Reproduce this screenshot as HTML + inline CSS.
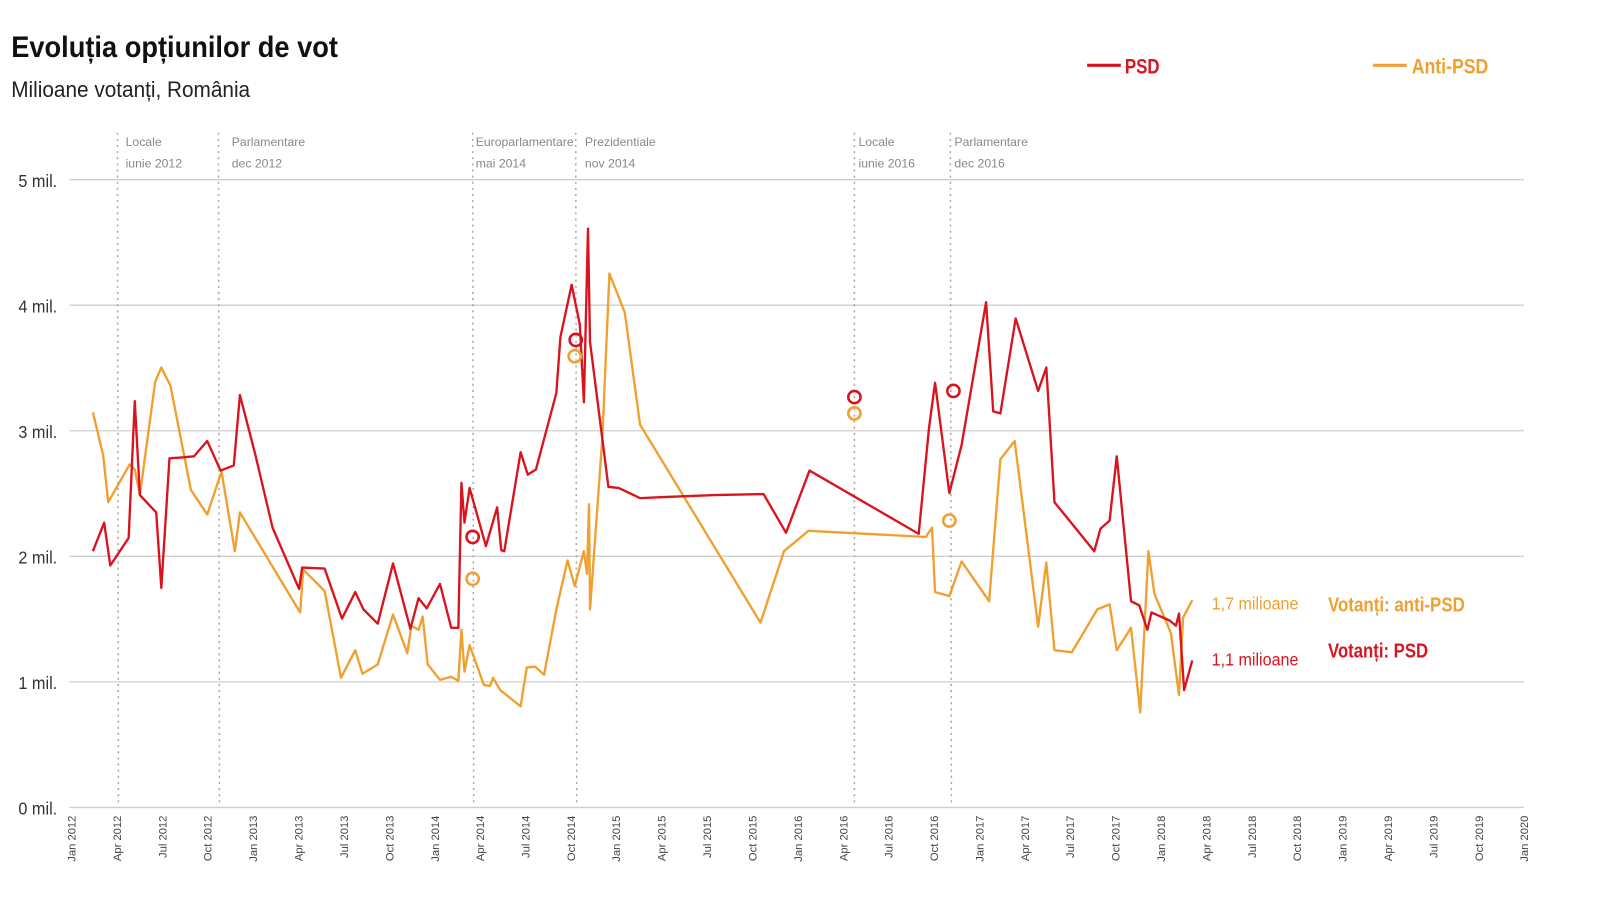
<!DOCTYPE html>
<html><head><meta charset="utf-8"><style>
html,body{margin:0;padding:0;background:#fff;}
svg{display:block;font-family:"Liberation Sans",sans-serif;}
</style></head><body>
<svg width="1600" height="900" viewBox="0 0 1567.4 881.7">
<text x="11" y="56" font-size="29" font-weight="bold" fill="#111" textLength="320" lengthAdjust="spacingAndGlyphs">Evoluția opțiunilor de vot</text>
<text x="11" y="95" font-size="22" fill="#222" textLength="234" lengthAdjust="spacingAndGlyphs">Milioane votanți, România</text>
<line x1="1065" y1="64" x2="1098" y2="64" stroke="#d9141e" stroke-width="3"/>
<text x="1102" y="72" font-size="21" font-weight="bold" fill="#d9141e" textLength="34" lengthAdjust="spacingAndGlyphs">PSD</text>
<line x1="1345" y1="64" x2="1378" y2="64" stroke="#f0a030" stroke-width="3"/>
<text x="1383" y="72" font-size="21" font-weight="bold" fill="#f0a030" textLength="75" lengthAdjust="spacingAndGlyphs">Anti-PSD</text>
<g stroke="#cfcfcf" stroke-width="1.3">
<line x1="68" y1="176" x2="1493" y2="176"/><line x1="68" y1="299" x2="1493" y2="299"/>
<line x1="68" y1="422" x2="1493" y2="422"/><line x1="68" y1="545" x2="1493" y2="545"/>
<line x1="68" y1="668" x2="1493" y2="668"/><line x1="68" y1="791" x2="1493" y2="791"/>
</g>
<g font-size="17" fill="#333" text-anchor="end">
<text x="56" y="183" textLength="38" lengthAdjust="spacingAndGlyphs">5 mil.</text>
<text x="56" y="306" textLength="38" lengthAdjust="spacingAndGlyphs">4 mil.</text>
<text x="56" y="429" textLength="38" lengthAdjust="spacingAndGlyphs">3 mil.</text>
<text x="56" y="552" textLength="38" lengthAdjust="spacingAndGlyphs">2 mil.</text>
<text x="56" y="675" textLength="38" lengthAdjust="spacingAndGlyphs">1 mil.</text>
<text x="56" y="798" textLength="38" lengthAdjust="spacingAndGlyphs">0 mil.</text>
</g>
<g stroke="#aaa" stroke-width="1.5" stroke-dasharray="2,4">
<line x1="115" y1="130" x2="116" y2="790"/><line x1="214" y1="130" x2="215" y2="790"/>
<line x1="463" y1="130" x2="464" y2="790"/><line x1="564" y1="130" x2="565" y2="790"/>
<line x1="837" y1="130" x2="837" y2="790"/><line x1="931" y1="130" x2="932" y2="790"/>
</g>
<g font-size="12" fill="#888">
<text x="123" y="143">Locale</text><text x="123" y="164">iunie 2012</text>
<text x="227" y="143">Parlamentare</text><text x="227" y="164">dec 2012</text>
<text x="466" y="143">Europarlamentare</text><text x="466" y="164">mai 2014</text>
<text x="573" y="143">Prezidentiale</text><text x="573" y="164">nov 2014</text>
<text x="841" y="143">Locale</text><text x="841" y="164">iunie 2016</text>
<text x="935" y="143">Parlamentare</text><text x="935" y="164">dec 2016</text>
</g>
<polyline fill="none" stroke="#f0a030" stroke-width="2.3" stroke-linejoin="round" points="91,404 101,446 106,492 127,455 132,460 137,485 152,374 158,360 167,378 187,480 203,504 217,462 230,540 235,502 294,600 297,558 318,579 334,664 348,637 355,660 370,651 385,602 399,640 403,613 410,617 414,604 419,651 431,666 442,663 449,667 452,617 455,658 460,632 474,671 480,672 483,664 490,676 510,692 516,654 524,653 533,661 545,597 556,549 563,574 572,540 575,562 577,494 578,597 590,430 597,268 612,306 627,416 745,610 768,540 792,520 907,526 913,517 916,580 930,584 942,550 969,589 980,450 994,432 1017,614 1025,551 1033,637 1050,639 1075,597 1087,592 1094,637 1108,615 1117,698 1125,540 1131,582 1147,620 1155,681 1159,605 1168,588"/>
<polyline fill="none" stroke="#d9141e" stroke-width="2.3" stroke-linejoin="round" points="91,540 102,512 108,554 126,527 132,393 137,485 153,502 158,576 166,449 180,448 190,447 203,432 216,461 229,456 235,387 250,445 267,517 293,577 296,556 318,557 335,606 348,580 356,597 370,611 385,552 402,616 410,586 418,596 431,572 442,615 449,615 452,473 455,512 460,478 476,535 487,497 491,539 494,540 510,443 517,465 525,460 545,385 549,330 560,279 568,318 572,394 576,224 578,335 596,477 606,478 627,488 650,487 700,485 748,484 770,522 793,461 900,523 910,420 916,375 930,483 942,436 966,296 973,403 980,405 995,312 1017,383 1025,360 1033,492 1072,540 1078,518 1087,510 1094,447 1108,589 1116,593 1124,617 1128,600 1146,608 1152,613 1155,601 1160,676 1168,647"/>
<g fill="none" stroke-width="2.5">
<circle cx="463" cy="526" r="6" stroke="#d9141e"/><circle cx="564" cy="333" r="6" stroke="#d9141e"/>
<circle cx="837" cy="389" r="6" stroke="#d9141e"/><circle cx="934" cy="383" r="6" stroke="#d9141e"/>
<circle cx="463" cy="567" r="6" stroke="#f0a030"/><circle cx="563" cy="349" r="6" stroke="#f0a030"/>
<circle cx="837" cy="405" r="6" stroke="#f0a030"/><circle cx="930" cy="510" r="6" stroke="#f0a030"/>
</g>
<text x="1187" y="597" font-size="17" fill="#f0a030" textLength="85" lengthAdjust="spacingAndGlyphs">1,7 milioane</text>
<text x="1187" y="652" font-size="17" fill="#d9141e" textLength="85" lengthAdjust="spacingAndGlyphs">1,1 milioane</text>
<text x="1301" y="599" font-size="20" font-weight="bold" fill="#f0a030" textLength="134" lengthAdjust="spacingAndGlyphs">Votanți: anti-PSD</text>
<text x="1301" y="644" font-size="20" font-weight="bold" fill="#d9141e" textLength="98" lengthAdjust="spacingAndGlyphs">Votanți: PSD</text>
<g font-size="11" fill="#444" text-anchor="end">
<text transform="translate(74,799) rotate(-90)">Jan 2012</text>
<text transform="translate(118.5,799) rotate(-90)">Apr 2012</text>
<text transform="translate(162.9,799) rotate(-90)">Jul 2012</text>
<text transform="translate(207.4,799) rotate(-90)">Oct 2012</text>
<text transform="translate(251.9,799) rotate(-90)">Jan 2013</text>
<text transform="translate(296.4,799) rotate(-90)">Apr 2013</text>
<text transform="translate(340.8,799) rotate(-90)">Jul 2013</text>
<text transform="translate(385.3,799) rotate(-90)">Oct 2013</text>
<text transform="translate(429.8,799) rotate(-90)">Jan 2014</text>
<text transform="translate(474.2,799) rotate(-90)">Apr 2014</text>
<text transform="translate(518.7,799) rotate(-90)">Jul 2014</text>
<text transform="translate(563.2,799) rotate(-90)">Oct 2014</text>
<text transform="translate(607.6,799) rotate(-90)">Jan 2015</text>
<text transform="translate(652.1,799) rotate(-90)">Apr 2015</text>
<text transform="translate(696.6,799) rotate(-90)">Jul 2015</text>
<text transform="translate(741.1,799) rotate(-90)">Oct 2015</text>
<text transform="translate(785.5,799) rotate(-90)">Jan 2016</text>
<text transform="translate(830,799) rotate(-90)">Apr 2016</text>
<text transform="translate(874.5,799) rotate(-90)">Jul 2016</text>
<text transform="translate(918.9,799) rotate(-90)">Oct 2016</text>
<text transform="translate(963.4,799) rotate(-90)">Jan 2017</text>
<text transform="translate(1007.9,799) rotate(-90)">Apr 2017</text>
<text transform="translate(1052.3,799) rotate(-90)">Jul 2017</text>
<text transform="translate(1096.8,799) rotate(-90)">Oct 2017</text>
<text transform="translate(1141.3,799) rotate(-90)">Jan 2018</text>
<text transform="translate(1185.8,799) rotate(-90)">Apr 2018</text>
<text transform="translate(1230.2,799) rotate(-90)">Jul 2018</text>
<text transform="translate(1274.7,799) rotate(-90)">Oct 2018</text>
<text transform="translate(1319.2,799) rotate(-90)">Jan 2019</text>
<text transform="translate(1363.6,799) rotate(-90)">Apr 2019</text>
<text transform="translate(1408.1,799) rotate(-90)">Jul 2019</text>
<text transform="translate(1452.6,799) rotate(-90)">Oct 2019</text>
<text transform="translate(1497,799) rotate(-90)">Jan 2020</text>
</g>
</svg>
</body></html>
